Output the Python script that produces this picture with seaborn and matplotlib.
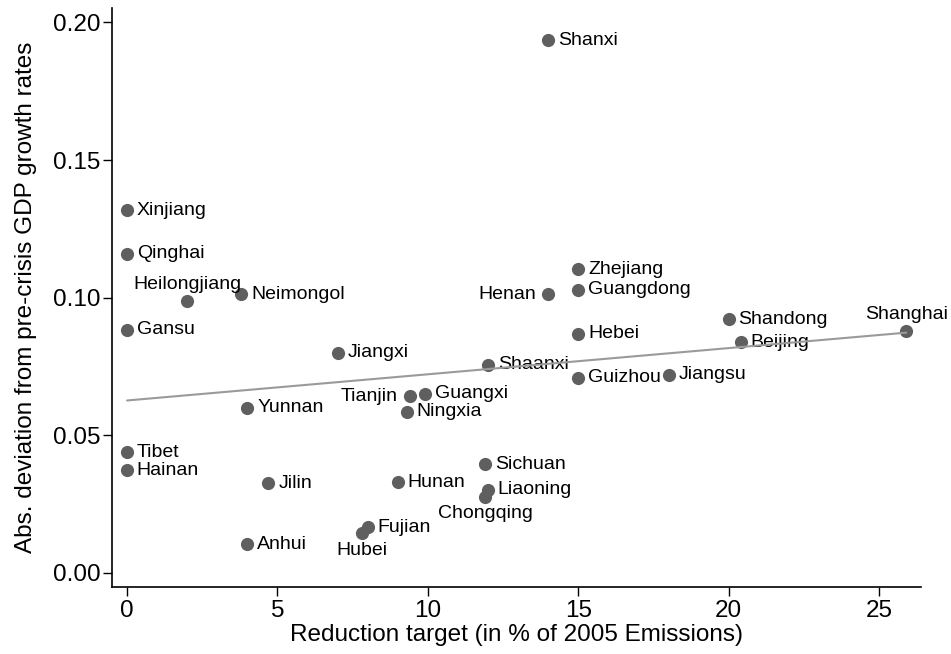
import matplotlib
matplotlib.use("Agg")
import matplotlib.pyplot as plt
import seaborn as sns
import pandas as pd
import numpy as np

provinces = ["Shanxi", "Xinjiang", "Qinghai", "Heilongjiang", "Neimongol", "Gansu",
             "Jiangxi", "Shaanxi", "Tianjin", "Guangxi", "Ningxia", "Yunnan",
             "Tibet", "Hainan", "Jilin", "Hunan", "Sichuan", "Liaoning",
             "Chongqing", "Fujian", "Hubei", "Anhui", "Zhejiang", "Guangdong",
             "Henan", "Hebei", "Guizhou", "Jiangsu", "Shandong", "Beijing", "Shanghai"]
reduction = [14.0, 0.0, 0.0, 2.0, 3.8, 0.0,
             7.0, 12.0, 9.4, 9.9, 9.3, 4.0,
             0.0, 0.0, 4.7, 9.0, 11.9, 12.0,
             11.9, 8.0, 7.8, 4.0, 15.0, 15.0,
             14.0, 15.0, 15.0, 18.0, 20.0, 20.4, 25.9]
deviation = [0.1936, 0.1318, 0.1159, 0.0988, 0.1012, 0.0883,
             0.0799, 0.0755, 0.0641, 0.0650, 0.0585, 0.0600,
             0.0438, 0.0372, 0.0325, 0.0329, 0.0395, 0.0301,
             0.0276, 0.0165, 0.0143, 0.0103, 0.1103, 0.1028,
             0.1012, 0.0868, 0.0709, 0.0720, 0.0922, 0.0838, 0.0879]
# label position (clock style): 3 = right, 9 = left, 12 = above, 6 = below
label_pos = [3, 3, 3, 12, 3, 3,
             3, 3, 9, 3, 3, 3,
             3, 3, 3, 3, 3, 3,
             6, 3, 6, 3, 3, 3,
             9, 3, 3, 3, 3, 3, 12]

x_ticks = [0, 5, 10, 15, 20, 25]
y_ticks = [0.00, 0.05, 0.10, 0.15, 0.20]
x_label = "Reduction target (in % of 2005 Emissions)"
y_label = "Abs. deviation from pre-crisis GDP growth rates"

df = pd.DataFrame({"province": provinces, "reduction": reduction,
                   "deviation": deviation, "pos": label_pos})

sns.set_theme(style="ticks")
plt.rcParams["font.family"] = ["Liberation Sans", "DejaVu Sans"]

fig = plt.figure(figsize=(9.51, 6.54), dpi=100)
ax = fig.add_axes([0.1178, 0.102, 0.851, 0.886])

sns.scatterplot(data=df, x="reduction", y="deviation", ax=ax, s=90,
                color="#5f5f5f", edgecolor="#5f5f5f", linewidth=0, zorder=3)
sns.regplot(data=df, x="reduction", y="deviation", ax=ax, scatter=False,
            ci=None, truncate=True,
            line_kws={"color": "#9a9a9a", "linewidth": 1.5, "zorder": 5})

for _, r in df.iterrows():
    p = r["pos"]
    if p == 3:
        kw = dict(xytext=(7.0, 0), ha="left", va="center")
    elif p == 9:
        kw = dict(xytext=(-8.5, 0), ha="right", va="center")
    elif p == 12:
        kw = dict(xytext=(0, 5.5), ha="center", va="bottom")
    else:
        kw = dict(xytext=(0, -6.0), ha="center", va="top")
    ax.annotate(r["province"], (r["reduction"], r["deviation"]),
                textcoords="offset points", fontsize=14, color="black",
                zorder=4, **kw)

ax.set_xlim(-0.5, 26.4)
ax.set_ylim(-0.0053, 0.2053)
ax.set_xticks(x_ticks)
ax.set_yticks(y_ticks)
ax.set_yticklabels([f"{v:.2f}" for v in y_ticks])
ax.tick_params(axis="both", labelsize=17.5, length=6.5, width=1.0,
               color="black", labelcolor="black", direction="out")
ax.tick_params(axis="x", pad=3)
ax.tick_params(axis="y", pad=2)
ax.set_xlabel(x_label, fontsize=17.5, color="black")
ax.set_ylabel(y_label, fontsize=17.5, color="black")
ax.xaxis.set_label_coords(0.4993, -0.064)
ax.yaxis.set_label_coords(-0.093, 0.5)
for s in ["top", "right"]:
    ax.spines[s].set_visible(False)
for s in ["left", "bottom"]:
    ax.spines[s].set_color("black")
    ax.spines[s].set_linewidth(1.2)

fig.savefig("out.png", dpi=100, facecolor="white")
